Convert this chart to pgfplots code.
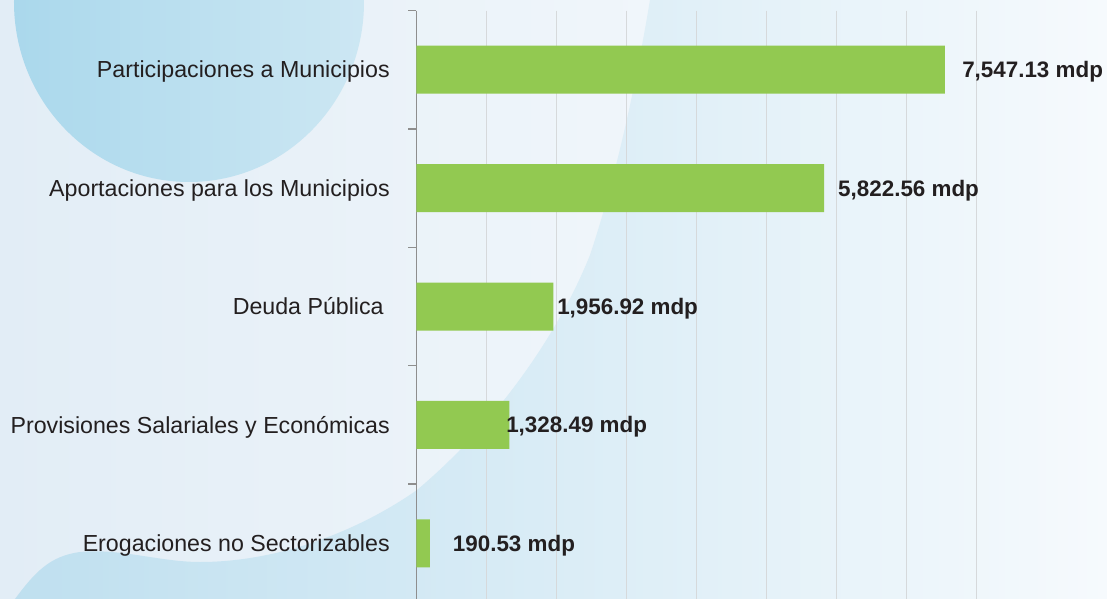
\documentclass[border=0pt]{standalone}
\usepackage{pgfplots}
\pgfplotsset{compat=1.18}
\usepackage{pgfplotstable}
\usepackage{fontspec}
\setmainfont{Liberation Sans}
\definecolor{bargreen}{RGB}{146,201,81}
\definecolor{labelgray}{HTML}{231F20}
\definecolor{axisgray}{HTML}{8E8E8E}
\definecolor{gridgray}{HTML}{D6D9DB}
\definecolor{bgA}{HTML}{E2EDF6}
\definecolor{bgB}{HTML}{E8F1F8}
\definecolor{bgC}{HTML}{FAFCFE}
\definecolor{waveA}{HTML}{BEDFEF}
\definecolor{waveB}{HTML}{DBEEF6}
\definecolor{waveC}{HTML}{F6FAFD}
\definecolor{circA}{HTML}{AAD8EC}
\definecolor{circB}{HTML}{CDE7F3}

\pgfplotstableread[col sep=semicolon, row sep=\\]{
y;val;lx;lab\\
0;7547.13;7793;7,547.13 mdp\\
1;5822.56;6021;5,822.56 mdp\\
2;1956.92;2007;1,956.92 mdp\\
3;1328.49;1279;1,328.49 mdp\\
4;190.53;517;190.53 mdp\\
}\datatable

\begin{document}
\begin{tikzpicture}
% background (image pixel coordinates, y downwards)
\begin{scope}[shift={(-312.375pt,7.875pt)}, x=0.75pt, y=-0.75pt]
  \clip (0,0) rectangle (1107,599);
  \shade[left color=bgA, middle color=bgB, right color=bgC] (0,0) rectangle (1107,599);
  \shade[left color=waveA, middle color=waveB, right color=waveC]
    (0,599) -- (15,599) .. controls (35,572) and (50,556) .. (80,552)
    .. controls (120,548) and (160,562) .. (200,562)
    .. controls (280,562) and (360,530) .. (417,490)
    .. controls (500,420) and (560,330) .. (590,255)
    .. controls (615,180) and (635,90) .. (650,0)
    -- (1107,0) -- (1107,599) -- cycle;
  \shade[left color=circA, right color=circB] (189,2) ellipse [x radius=175, y radius=180];
\end{scope}

\begin{axis}[
  at={(0,0)}, anchor=north west,
  scale only axis, width=420pt, height=444pt,
  xmin=0, xmax=8000, ymin=-0.5, ymax=4.5, y dir=reverse,
  axis y line*=left, axis x line*=bottom,
  x axis line style={draw=none},
  y axis line style={draw=axisgray, line width=1.1pt},
  xtick={0,1000,...,8000}, xticklabel=\empty, xtick style={draw=none},
  xmajorgrids, major grid style={draw=gridgray, line width=1.1pt},
  ytick={0,1,2,3,4},
  yticklabels={Participaciones a Municipios, Aportaciones para los Municipios, {Deuda Pública\kern4.5pt}, Provisiones Salariales y Económicas, Erogaciones no Sectorizables},
  minor ytick={-0.5,0.5,1.5,2.5,3.5,4.5},
  tick align=outside, major tick length=0pt, minor tick length=6pt,
  minor y tick style={draw=axisgray, line width=1.1pt},
  yticklabel style={anchor=base east, inner sep=0pt, xshift=-19.9pt, yshift=-6.2pt,
    font=\fontsize{17.4}{20}\selectfont, text=labelgray},
  clip=false,
]
\addplot[xbar, bar width=36pt, fill=bargreen, draw=none] table[x=val, y=y]{\datatable};
\addplot[draw=none, mark=none, nodes near coords, point meta=explicit symbolic,
  every node near coord/.append style={anchor=base west, inner sep=0pt, yshift=-6pt,
    font=\bfseries\fontsize{16.8}{20}\selectfont, text=labelgray}]
  table[x=lx, y=y, meta=lab]{\datatable};
\end{axis}

\pgfresetboundingbox
\begin{scope}[shift={(-312.375pt,7.875pt)}, x=0.75pt, y=-0.75pt]
  \path[use as bounding box] (0,0) rectangle (1107,599);
\end{scope}
\end{tikzpicture}
\end{document}
